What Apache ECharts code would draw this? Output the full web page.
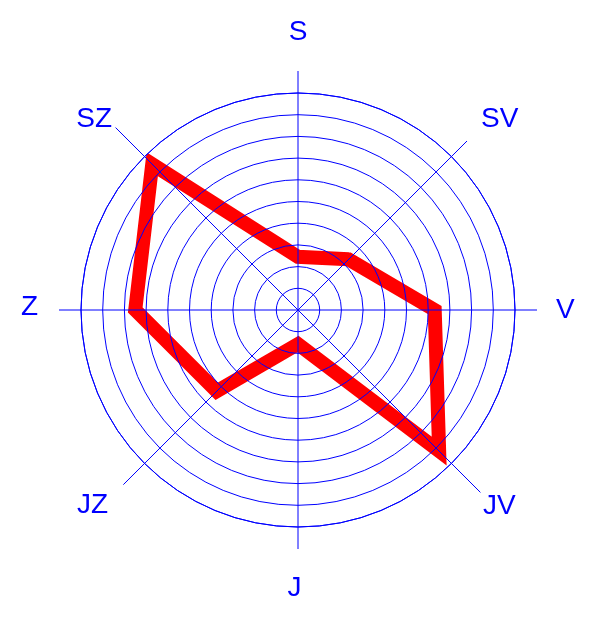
<!DOCTYPE html>
<html>
<head>
<meta charset="utf-8">
<script src="https://cdn.jsdelivr.net/npm/echarts@6/dist/echarts.min.js"></script>
<style>
  html, body { margin: 0; padding: 0; background: #fff; }
  #chart { width: 607px; height: 631px; }
</style>
</head>
<body>
<div id="chart"></div>
<script>
// directions, clockwise from north
const directions = ['S', 'SV', 'V', 'JV', 'J', 'JZ', 'Z', 'SZ'];
// values read along each ray (middle of the red band)
const values = [2.45, 3.3, 6.3, 9.2, 1.57, 5.3, 7.5, 9.5];

const blue = '#0000ff';
const red = '#ff0000';
const none = 'rgba(0,0,0,0)';
const center = [298, 310];

// angle of each direction on a 0..360 axis; the first two points are repeated
// at the end so the polygon is closed with a proper corner at S
const lineData = directions.map((d, i) => [values[i], i * 45]);
lineData.push([values[0], 0], [values[1], 45]);

// small nudges so the labels sit where the reference has them
const labelRich = {
    S:  { padding: [0, 0, 8, 0] },
    SV: { padding: [0, 0, 0, 2], lineHeight: 20 },
    V:  { padding: [0, 0, 0, 2] },
    JV: { padding: [1, 0, 0, 4] },
    J:  { padding: [8, 7, 0, 0] },
    JZ: { padding: [0, 9, 0, 0] },
    Z:  { padding: [0, 4, 6, 0] },
    SZ: { padding: [0, 5, 0, 0], lineHeight: 20 }
};

function angleAxis(polarIndex, lineColors, withLabels) {
    return {
        polarIndex: polarIndex,
        type: 'value',
        min: 0,
        max: 360,
        interval: 45,
        startAngle: 90,
        z: 5,
        axisLine: { show: polarIndex === 0, lineStyle: { color: blue, width: 1 } },
        axisTick: { show: false },
        axisLabel: {
            show: withLabels,
            margin: 17,
            color: blue,
            fontSize: 28,
            fontFamily: 'Liberation Sans, Arial, sans-serif',
            formatter: function (v) {
                const name = directions[Math.round(v / 45) % 8];
                return '{' + name + '|' + name + '}';
            },
            rich: labelRich
        },
        splitLine: { show: !!lineColors, lineStyle: { color: lineColors || blue, width: 1 } }
    };
}

function hiddenRadius(polarIndex) {
    return { polarIndex: polarIndex, min: 0, max: 10, show: false };
}

const chart = echarts.init(document.getElementById('chart'));
chart.setOption({
    animation: false,
    backgroundColor: '#ffffff',
    polar: [
        { center: center, radius: 217 },
        { center: center, radius: 239 },
        { center: center, radius: 258 },
        { center: center, radius: 247 }
    ],
    angleAxis: [
        angleAxis(0, null, false),
        angleAxis(1, [blue, blue, blue, none, blue, none, blue, none], true),
        angleAxis(2, [none, none, none, blue, none, none, none, blue], false),
        angleAxis(3, [none, none, none, none, none, blue, none, none], false)
    ],
    radiusAxis: [{
        polarIndex: 0,
        min: 0,
        max: 10,
        interval: 1,
        z: 5,
        axisLine: { show: false },
        axisTick: { show: false },
        axisLabel: { show: false },
        splitLine: { show: true, lineStyle: { color: blue, width: 1 } }
    }, hiddenRadius(1), hiddenRadius(2), hiddenRadius(3)],
    series: [{
        type: 'line',
        coordinateSystem: 'polar',
        polarIndex: 0,
        z: 1,
        clip: false,
        symbol: 'none',
        silent: true,
        lineStyle: { color: red, width: 14, join: 'miter', cap: 'butt' },
        data: lineData
    }]
});
</script>
</body>
</html>
